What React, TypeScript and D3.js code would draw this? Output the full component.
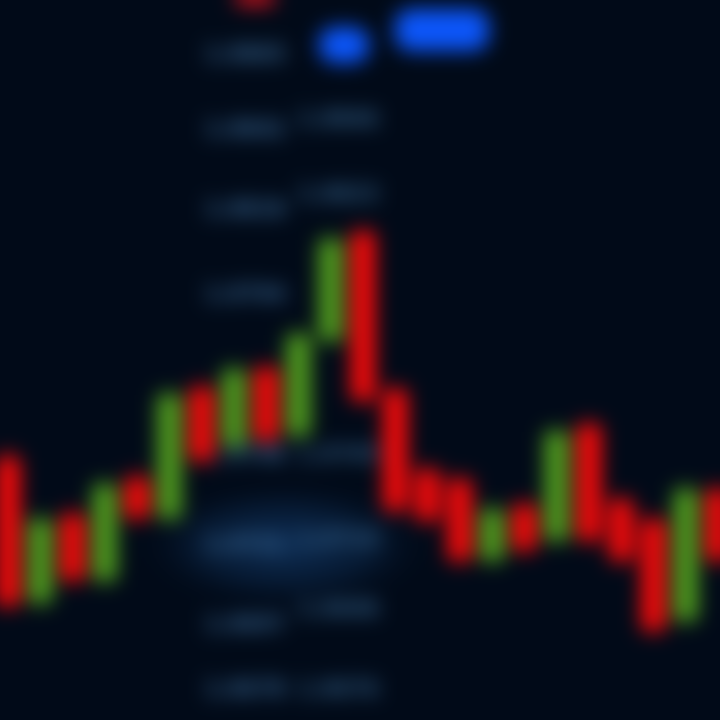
import React from "react";
import * as d3 from "d3";

// candles: index order, open/close in price units (higher = up)
const candleIndex = d3.range(23);
const opens = [262, 118, 205, 140, 242, 202, 332, 275, 352, 285, 380, 488, 330, 250, 240, 160, 215, 180, 295, 220, 200, 100, 230];
const closes = [115, 200, 140, 235, 202, 325, 260, 350, 280, 385, 480, 320, 210, 200, 160, 210, 170, 288, 180, 160, 90, 230, 160];
const highs = [270, 205, 212, 240, 248, 330, 338, 355, 356, 390, 485, 492, 335, 255, 245, 215, 220, 292, 300, 225, 205, 235, 235];
const lows = [110, 112, 135, 135, 198, 198, 255, 270, 276, 280, 375, 315, 205, 195, 155, 155, 165, 175, 175, 155, 85, 95, 155];

// price labels in two columns
const labelCol1 = ["1.0865", "1.0842", "1.0818", "1.0794", "1.0748", "1.0721", "1.0697", "1.0678"];
const labelCol1Y = [665, 590, 510, 425, 265, 175, 95, 30];
const labelCol2 = ["1.0846", "1.0823", "1.0745", "1.0719", "1.0698", "1.0676"];
const labelCol2Y = [600, 525, 265, 180, 110, 30];

// blue markers at the top
const blueCx = [344, 442];
const blueCy = [675, 690];
const blueW = [50, 94];
const blueH = [36, 42];

export default function App() {
  const W = 720, H = 720, P = 60;
  const x = d3.scaleLinear().domain([0, 22]).range([8, 718]);
  const y = d3.scaleLinear().domain([0, 720]).range([720, 0]);
  const bw = 24;
  const up = "#52a01e";
  const down = "#ff0a0a";
  return (
    <div style={{ position: "fixed", left: 0, top: 0, width: W, height: H, overflow: "hidden", background: "#010a18" }}>
      <svg width={W + 2 * P} height={H + 2 * P} style={{ display: "block", position: "absolute", left: -P, top: -P, filter: "blur(10px)" }}>
        <defs>
          <radialGradient id="glow">
            <stop offset="0%" stopColor="#0e2e56" stopOpacity={1} />
            <stop offset="60%" stopColor="#0a2444" stopOpacity={0.6} />
            <stop offset="100%" stopColor="#010a18" stopOpacity={0} />
          </radialGradient>
        </defs>
        <rect width={W + 2 * P} height={H + 2 * P} fill="#010a18" />
        <g transform={`translate(${P},${P})`}>
          <ellipse cx={285} cy={545} rx={150} ry={65} fill="url(#glow)" />
          {labelCol1.map((t, i) => (
            <text key={"a" + i} x={245} y={y(labelCol1Y[i])} fill="#3a6a98" fontFamily="DejaVu Sans" fontWeight="bold" fontSize={21} textAnchor="middle" dominantBaseline="middle">{t}</text>
          ))}
          {labelCol2.map((t, i) => (
            <text key={"b" + i} x={338} y={y(labelCol2Y[i])} fill="#35648e" fontFamily="DejaVu Sans" fontWeight="bold" fontSize={21} textAnchor="middle" dominantBaseline="middle">{t}</text>
          ))}
          {blueCx.map((cx, i) => (
            <rect key={"bl" + i} x={cx - blueW[i] / 2} y={y(blueCy[i]) - blueH[i] / 2} width={blueW[i]} height={blueH[i]} rx={16} fill="#0c56fa" />
          ))}
          <rect x={236} y={-12} width={38} height={18} fill="#c0101a" />
          {candleIndex.map((i) => {
            const o = opens[i], c = closes[i];
            const col = c >= o ? up : down;
            const top = y(Math.max(o, c)), bot = y(Math.min(o, c));
            return (
              <g key={i}>
                <line x1={x(i)} x2={x(i)} y1={y(highs[i])} y2={y(lows[i])} stroke={col} strokeWidth={4} />
                <rect x={x(i) - bw / 2} y={top} width={bw} height={Math.max(2, bot - top)} fill={col} />
              </g>
            );
          })}
        </g>
      </svg>
    </div>
  );
}
